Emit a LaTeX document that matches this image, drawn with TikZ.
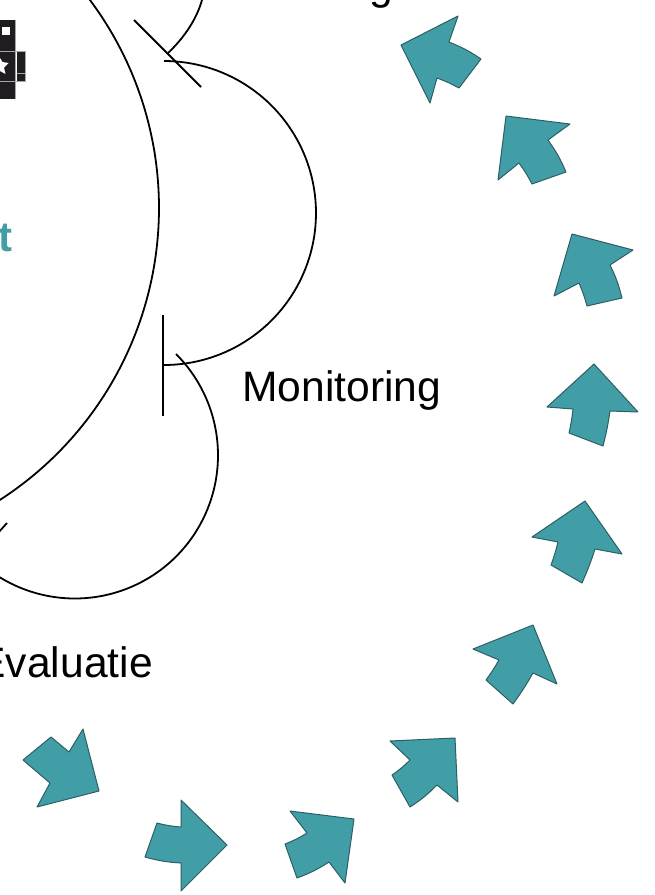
\documentclass[tikz,border=0pt]{standalone}
\usepackage{fontspec}
\setmainfont{Liberation Sans}
\definecolor{teal1}{HTML}{429EA6}
\definecolor{tealedge}{HTML}{2B5F63}
\definecolor{logoblack}{HTML}{1F1D20}
\tikzset{
  arrowshape/.style={fill=teal1,draw=tealedge,line width=1pt,line join=round},
  curveline/.style={draw=black,line width=1.8pt},
  label/.style={inner sep=0pt,font=\fontsize{42.6}{46}\selectfont,text=black},
  logoblock/.style={fill=logoblack,draw=none},
  logosep/.style={draw=gray!70,line width=0.8pt}
}
\begin{document}
\begin{tikzpicture}[x=1pt,y=-1pt]
\useasboundingbox (0,0) rectangle (654,895);
\clip (0,0) rectangle (654,895);
% logo
\fill[logoblock] (0,19.5) rectangle (15.5,99);
\fill[logoblock] (16.5,51) rectangle (25,81.5);
\draw[logosep] (0,51) -- (15.5,51) -- (15.5,81.5) -- (0,81.5);
\draw[logosep] (16.5,73) -- (25,73);
\draw[logosep] (15.5,19.5) -- (15.5,99);
\draw[logosep] (16,51) -- (25,51) -- (25,81.5) -- (16,81.5);
\fill[white] (2,27) rectangle (10,35);
\fill[white] (0,58) -- (2.5,62) -- (8.5,63) -- (4,67.5) -- (5.5,74) -- (0,71) -- cycle;
% labels
\node[label,anchor=base east] (plan) at (393,-1) {Planning};
\node[label,anchor=base west] (mon) at (242,401) {Monitoring};
\node[label,anchor=base east] (eval) at (153,677) {Evaluatie};
\node[inner sep=0pt,anchor=base east,font=\fontsize{42}{46}\selectfont\bfseries,text=teal1] (tt) at (13,251) {t};
% curves
\draw[curveline] plot[domain=-37:58,samples=110] ({-188.6+347.6*cos(\x)},{207.9+347.6*sin(\x)});
\draw[curveline] plot[domain=-90:90,samples=90] ({164+152*cos(\x)},{213+152*sin(\x)});
\draw[curveline] plot[domain=-45:125,samples=110] ({74.8+143.2*cos(\x)},{455.3+143.2*sin(\x)});
\draw[curveline] (168,53) .. controls (185,37) and (197,18) .. (202,0);
\coordinate (t1a) at (134,20); \coordinate (t1b) at (201,87);
\draw[curveline] (t1a) -- (t1b);
\coordinate (t2a) at (163,315); \coordinate (t2b) at (163,416);
\draw[curveline] (t2a) -- (t2b);
\coordinate (t3a) at (7,523); \coordinate (t3b) at (-2,533);
\draw[curveline] (t3a) -- (t3b);
% arrows
\draw[arrowshape] (401,45) -- (458,16) -- (449,42) to[bend left=6] (481,59) -- (459,88) to[bend right=4] (437,78) -- (430,103) -- cycle;
\draw[arrowshape] (506,116) -- (570,124) -- (548,140) to[bend left=6] (566,172) -- (532,184) to[bend right=4] (519,163) -- (498,180) -- cycle;
\draw[arrowshape] (572,234) -- (633,250) -- (610,265) to[bend left=6] (622,298) -- (587,306) to[bend right=4] (579,283) -- (554,296) -- cycle;
\draw[arrowshape] (594,364) -- (638,412) -- (610,411) to[bend left=3] (603,446) -- (569,433) to[bend right=3] (573,409) -- (547,407) -- cycle;
\draw[arrowshape] (585,501) -- (622,554) -- (595,549) to[bend left=3] (582,583) -- (551,565) to[bend right=3] (558,542) -- (532,537) -- cycle;
\draw[arrowshape] (533,625) -- (557,684) -- (533,673) to[bend left=3] (513,704) -- (486,680) to[bend right=3] (499,660) -- (473,649) -- cycle;
\draw[arrowshape] (455,738) -- (458,802) -- (437,785) to[bend left=6] (410,807) -- (392,775) to[bend right=5] (410,760) -- (390,741) -- cycle;
\draw[arrowshape] (354,819) -- (345,883) -- (329,862) to[bend left=6] (297,878) -- (285,844) to[bend right=5] (307,833) -- (290,811) -- cycle;
\draw[arrowshape] (227,845) -- (181,891) -- (181,863) to[bend left=6] (145,857) -- (157,823) to[bend right=5] (181,827) -- (181,800) -- cycle;
\draw[arrowshape] (83,729) -- (99,791) -- (37,807) -- (50,783) -- (23,760) -- (51,737) -- (69,752) -- cycle;
\end{tikzpicture}
\end{document}
